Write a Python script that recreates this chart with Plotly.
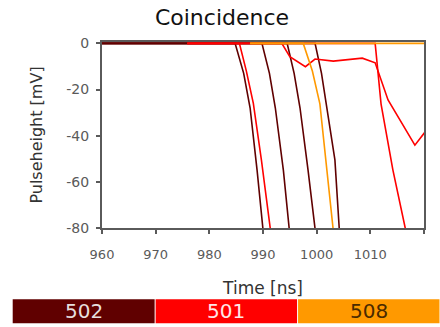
import plotly.graph_objects as go

# ---------------- data ----------------
SERIES_NAMES = ["502", "501", "508"]
SERIES_COLORS = ["#600000", "#ff0000", "#ff9900"]
LEGEND_TEXT_COLORS = ["#e6dede", "#ffe6e6", "#4a2a00"]

# 502 pulses (time in ns, pulse height in mV)
t_502_a = [960, 984.8, 986.4, 987.6, 988.9, 990.0, 990.4]
v_502_a = [0, 0, -13, -28, -55, -80, -90]
t_502_b = [960, 989.8, 991.2, 992.3, 993.8, 994.9, 995.3]
v_502_b = [0, 0, -13, -28, -55, -80, -90]
t_502_c = [960, 994.5, 995.8, 996.9, 998.4, 999.7, 1000.2]
v_502_c = [0, 0, -13, -28, -55, -80, -90]
t_502_d = [960, 999.7, 1000.9, 1001.9, 1003.4, 1004.2, 1004.6]
v_502_d = [0, 0, -13, -28, -50.5, -80, -90]

# 501 pulses
t_501_a = [975.9, 985.6, 986.9, 988.2, 989.7, 991.3, 991.9]
v_501_a = [0, 0, -12, -26, -50.5, -80, -90]
t_501_b = [975.9, 993.5, 995.0, 997.9, 999.7, 1003.1, 1008.5, 1010.9,
           1013.3, 1015.5, 1018.3, 1019.9, 1020.5]
v_501_b = [0, 0, -5.8, -10.1, -6.8, -7.7, -6.4, -8.4,
           -24.5, -33.2, -44.1, -39.3, -37.5]
t_501_c = [975.9, 1010.9, 1012.0, 1014.2, 1016.5, 1017.3]
v_501_c = [0, 0, -26.3, -54.8, -80, -90]

# 508 pulses
t_508_a = [987.6, 997.5, 999.2, 1000.6, 1001.9, 1003.1, 1003.5]
v_508_a = [0, 0, -12, -26.2, -54.8, -80, -90]
t_508_b = [987.6, 1020]
v_508_b = [0, 0]

X_TICKS = [960, 970, 980, 990, 1000, 1010, 1020]
Y_TICKS = [0, -20, -40, -60, -80]

series = [
    ("502", [(t_502_a, v_502_a), (t_502_b, v_502_b), (t_502_c, v_502_c), (t_502_d, v_502_d)]),
    ("501", [(t_501_a, v_501_a), (t_501_b, v_501_b), (t_501_c, v_501_c)]),
    ("508", [(t_508_a, v_508_a), (t_508_b, v_508_b)]),
]

# ---------------- figure ----------------
W, H = 440, 327
ML, MR, MT, MB = 102, 16, 42, 99
PW, PH = W - ML - MR, H - MT - MB

fig = go.Figure()
for name, pulses in series:
    color = SERIES_COLORS[SERIES_NAMES.index(name)]
    for t, v in pulses:
        fig.add_trace(go.Scatter(x=t, y=v, mode="lines", name=name,
                                 line=dict(color=color, width=1.6),
                                 showlegend=False, hoverinfo="skip"))

def px_x(px):
    return (px - ML) / PW

def px_y(py):
    return (H - MB - py) / PH

# legend bar below the chart
box_left, box_right = 12.7, 440
box_top, box_bottom = 299.3, 323.3
n = len(SERIES_NAMES)
bw = (box_right - box_left) / n
shapes = []
annotations = []
for i, (nm, col, tc) in enumerate(zip(SERIES_NAMES, SERIES_COLORS, LEGEND_TEXT_COLORS)):
    x0 = box_left + i * bw + (0.5 if i > 0 else 0)
    x1 = box_left + (i + 1) * bw - 0.5
    shapes.append(dict(type="rect", xref="paper", yref="paper",
                       x0=px_x(x0), x1=px_x(x1), y0=px_y(box_bottom), y1=px_y(box_top),
                       fillcolor=col, line=dict(width=0), layer="above"))
    annotations.append(dict(text=nm, xref="paper", yref="paper",
                            x=px_x((x0 + x1) / 2), y=px_y((box_top + box_bottom) / 2),
                            xanchor="center", yanchor="middle", showarrow=False,
                            font=dict(family="DejaVu Sans", size=20, color=tc)))

axis_common = dict(showgrid=False, zeroline=False, showline=True,
                   linecolor="#5a5a5a", linewidth=2, mirror=True,
                   ticks="outside", ticklen=4, tickcolor="#5a5a5a", tickwidth=1.5)

fig.update_layout(
    width=W, height=H,
    margin=dict(l=ML, r=MR, t=MT, b=MB, pad=0),
    paper_bgcolor="white", plot_bgcolor="white",
    title=dict(text="Coincidence", x=222 / W, xanchor="center",
               y=1 - 17 / H, yanchor="middle", xref="container", yref="container",
               font=dict(family="DejaVu Sans", size=22, color="#111111")),
    xaxis=dict(range=[960, 1020], tickvals=X_TICKS, ticktext=[str(v) for v in X_TICKS],
               ticklabelstandoff=9,
               tickfont=dict(family="DejaVu Sans", size=13, color="#5a5a5a"),
               title=dict(text="Time [ns]", standoff=22,
                          font=dict(family="DejaVu Sans", size=17, color="#333333")),
               **axis_common),
    yaxis=dict(range=[-80, 0.6], tickvals=Y_TICKS, ticktext=[str(v) for v in Y_TICKS],
               ticklabelstandoff=4,
               tickfont=dict(family="DejaVu Sans", size=14, color="#5a5a5a"),
               title=dict(text="Pulseheight [mV]", standoff=20,
                          font=dict(family="DejaVu Sans", size=16, color="#333333")),
               **axis_common),
    shapes=shapes,
    annotations=annotations,
)

fig.write_html("out.html",
               config={"displayModeBar": False},
               post_script="document.body.style.margin='0';document.body.style.overflow='hidden';")
